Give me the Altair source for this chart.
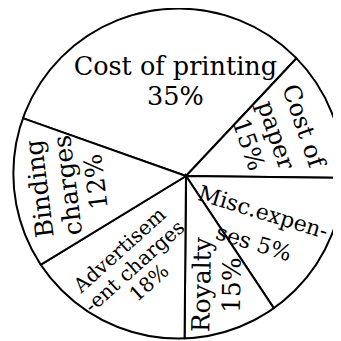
import math
import altair as alt
import pandas as pd

# ---- data ----
categories = ["Cost of printing", "Cost of paper", "Misc. expenses", "Royalty",
              "Advertisement charges", "Binding charges"]
percent = [35, 15, 5, 15, 18, 12]                      # printed percentages
drawn_angle = [113.7, 47.5, 55.7, 34.1, 58.1, 50.9]    # slice sweep as drawn (deg)
label_name = ["Cost of printing", "Cost of\npaper", "Misc.expen-\nses", "Royalty",
              "Advertisem\n-ent charges", "Binding\ncharges"]
label_sep = ["\n", "\n", " ", "\n", "\n", "\n"]

df = pd.DataFrame({
    "category": categories,
    "percent": percent,
    "size": drawn_angle,
    "name": label_name,
    "sep": label_sep,
    "order": list(range(len(categories))),
})
df["label"] = df["name"] + df["sep"] + df["percent"].astype(str) + "%"

# ---- layout / style ----
W, H = 325, 333
START = math.radians(289.5)
APEX = (178, 168)          # where the slice edges meet
CIRC = (170.4, 165.6)      # centre of the outline circle
R = 165
FONT = "DejaVu Serif"

label_style = {
    "Cost of printing":      dict(angle=0,   radius=94.6,  shift=7.2, size=25.5, lh=30),
    "Cost of paper":         dict(angle=71,  radius=97.9,  shift=-1.45, size=24, lh=29),
    "Misc. expenses":        dict(angle=17,  radius=89.1,  shift=7.1, size=22, lh=32),
    "Royalty":               dict(angle=271, radius=113.3, shift=0.6, size=25, lh=30),
    "Advertisement charges": dict(angle=318, radius=104.3, shift=-0.2, size=20, lh=22),
    "Binding charges":       dict(angle=263, radius=118.3, shift=1.5, size=25, lh=28.5),
}

theta_scale = alt.Scale(domain=[0, 360], range=[START, START + 2 * math.pi])

base = (
    alt.Chart(df)
    .transform_window(cum="sum(size)", sort=[alt.SortField("order")])
    .transform_calculate(start="datum.cum - datum.size")
)

wedges = base.mark_arc(outerRadius=180, fill="white", stroke="black", strokeWidth=2).encode(
    theta=alt.Theta("start:Q", scale=theta_scale),
    theta2=alt.Theta2("cum:Q"),
    x=alt.value(APEX[0]),
    y=alt.value(APEX[1]),
)

one = alt.Chart(alt.Data(values=[{"k": 0}]))
mask = one.mark_arc(theta=0, theta2=2 * math.pi, innerRadius=R + 1, outerRadius=300,
                    fill="white").encode(x=alt.value(CIRC[0]), y=alt.value(CIRC[1]))
outline = one.mark_arc(theta=0, theta2=2 * math.pi, outerRadius=R, fill="white",
                       fillOpacity=0, stroke="black", strokeWidth=2).encode(
    x=alt.value(CIRC[0]), y=alt.value(CIRC[1]))

texts = []
for cat, lab in zip(categories, df["label"]):
    s = label_style[cat]
    nlines = lab.count("\n") + 1
    t = (
        base.transform_filter(alt.datum.category == cat)
        .transform_calculate(mid=f"datum.cum - datum.size / 2 + ({s['shift']})")
        .mark_text(angle=s["angle"], radius=s["radius"], fontSize=s["size"], font=FONT,
                   lineBreak="\n", lineHeight=s["lh"], align="center", baseline="middle",
                   dy=-(nlines - 1) * s["lh"] / 2, color="black")
        .encode(
            theta=alt.Theta("mid:Q", scale=theta_scale),
            text=alt.Text("label:N"),
            x=alt.value(APEX[0]),
            y=alt.value(APEX[1]),
        )
    )
    texts.append(t)

chart = alt.layer(wedges, mask, outline, *texts).properties(
    width=W, height=H, padding=0,
    autosize=alt.AutoSizeParams(type="none"),
    background="white",
).configure_view(stroke=None)

chart.save("out.html", embed_options={"renderer": "svg", "actions": False})
